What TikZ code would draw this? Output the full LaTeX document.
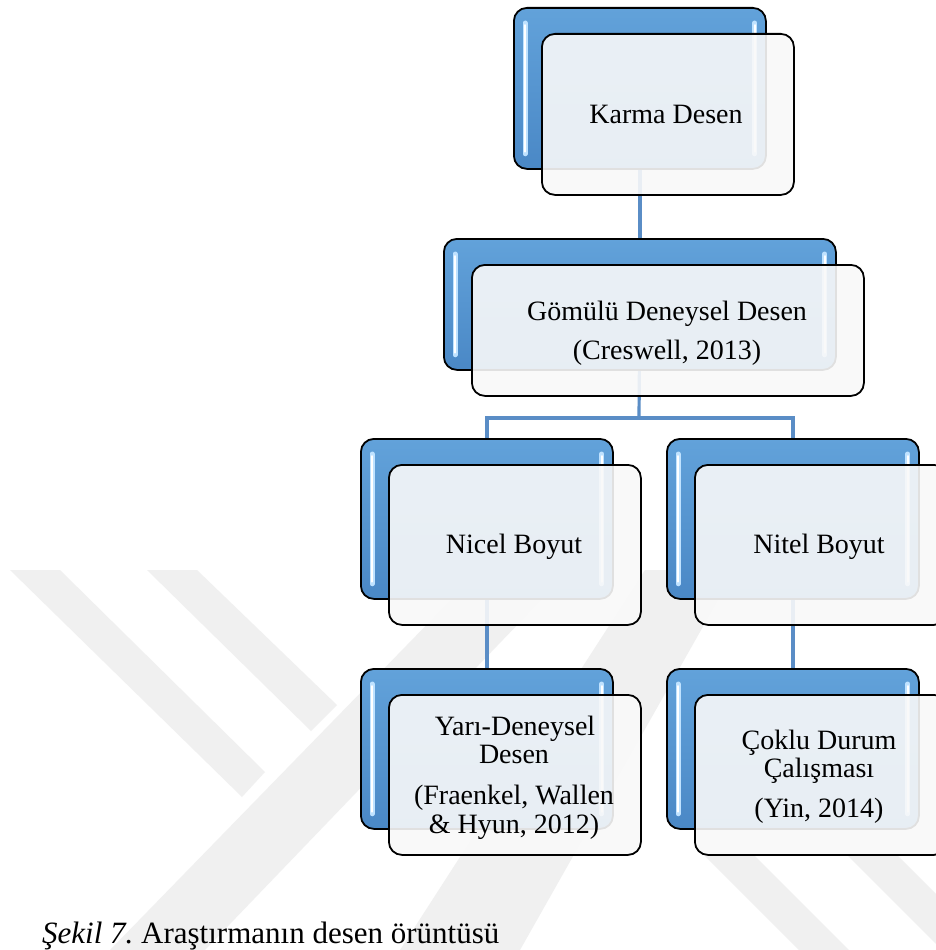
\documentclass[tikz,border=0pt]{standalone}
\usepackage{fontspec}
\setmainfont{Liberation Serif}
\usetikzlibrary{backgrounds}

\pgfdeclarelayer{watermark}
\pgfdeclarelayer{wires}
\pgfsetlayers{watermark,wires,main}

\definecolor{backtop}{HTML}{62A2DA}
\definecolor{backbottom}{HTML}{4A88C6}
\definecolor{glintblue}{HTML}{BFE2FF}
\definecolor{frontfill}{HTML}{F9F9F9}
\definecolor{wireblue}{HTML}{5A8DC6}
\definecolor{wmgray}{HTML}{F0F0F0}

% back box with its two glints, then the translucent front card on top
\newcommand\pairbox[5]{%
  \node[backbox, minimum width=#4pt, minimum height=#5pt] (b#1) at (#2,#3) {};
  \draw[glint] ([xshift=12pt,yshift=-16pt]b#1.north west) -- ([xshift=12pt,yshift=16pt]b#1.south west);
  \draw[glintcore] ([xshift=12pt,yshift=-18pt]b#1.north west) -- ([xshift=12pt,yshift=18pt]b#1.south west);
  \draw[glint] ([xshift=-12pt,yshift=-16pt]b#1.north east) -- ([xshift=-12pt,yshift=16pt]b#1.south east);
  \draw[glintcore] ([xshift=-12pt,yshift=-18pt]b#1.north east) -- ([xshift=-12pt,yshift=18pt]b#1.south east);
  \path (#2,#3) ++(28,26) node[frontbox, minimum width=#4pt, minimum height=#5pt] (f#1) {};
}

\begin{document}
\begin{tikzpicture}[x=1pt,y=-1pt,
  backbox/.style={draw=black, line width=1.8pt, rounded corners=13pt,
    top color=backtop, bottom color=backbottom, inner sep=0pt, anchor=north west},
  frontbox/.style={draw=black, line width=1.8pt, rounded corners=13pt,
    fill=frontfill, fill opacity=0.9, inner sep=0pt, anchor=north west},
  glint/.style={draw=glintblue, line width=5pt, line cap=round},
  glintcore/.style={draw=white, line width=1.6pt, line cap=round},
  txt/.style={font=\fontsize{28}{29}\selectfont, anchor=base, inner sep=0pt},
  wire/.style={draw=wireblue, line width=3.2pt},
  wm/.style={fill=wmgray}]

\useasboundingbox (0,0) rectangle (936,950);

% faint background watermark
\begin{pgfonlayer}{watermark}
  \fill[white] (0,0) rectangle (936,950);
  \fill[wm] (10,570) -- (60,570) -- (265,772) -- (242,797) -- cycle;
  \fill[wm] (147,570) -- (197,570) -- (337,705) -- (311,731) -- cycle;
  \fill[wm] (480,570) -- (570,570) -- (205,950) -- (110,950) -- cycle;
  \fill[wm] (645,570) -- (735,570) -- (520,950) -- (400,950) -- cycle;
  \fill[wm] (704,855) -- (754,855) -- (849,950) -- (799,950) -- cycle;
  \fill[wm] (847,855) -- (897,855) -- (992,950) -- (942,950) -- cycle;
\end{pgfonlayer}

% boxes
\pairbox{1}{513}{7}{252}{161}
\pairbox{2}{443}{238}{392}{131}
\pairbox{3}{360}{438}{252}{160}
\pairbox{4}{666}{438}{252}{160}
\pairbox{5}{360}{668}{252}{160}
\pairbox{6}{666}{668}{252}{160}

% connectors behind the boxes
\begin{pgfonlayer}{wires}
  \coordinate (bus) at (639,418);
  \draw[wire] (b1.center) -- (b2.center);
  \draw[wire] (b2.center) -- (bus);
  \draw[wire] (b3.center) |- (bus) -| (b4.center);
  \draw[wire] (b3.center) -- (b5.center);
  \draw[wire] (b4.center) -- (b6.center);
\end{pgfonlayer}

% texts
\node[txt] (t1) at (666,123) {Karma Desen};
\node[txt] (t2a) at (667,320) {Gömülü Deneysel Desen};
\node[txt] (t2b) at (667,359) {(Creswell, 2013)};
\node[txt] (t3) at (514,553) {Nicel Boyut};
\node[txt] (t4) at (819,553) {Nitel Boyut};
\node[txt] (t5a) at (515,735) {Yarı-Deneysel};
\node[txt] (t5b) at (514,763) {Desen};
\node[txt] (t5c) at (514,804) {(Fraenkel, Wallen};
\node[txt] (t5d) at (514,833) {\& Hyun, 2012)};
\node[txt] (t6a) at (819,749) {Çoklu Durum};
\node[txt] (t6b) at (819,777) {Çalışması};
\node[txt] (t6c) at (819,817) {(Yin, 2014)};

% caption
\node[anchor=base west, inner sep=0pt, font=\fontsize{31}{33}\selectfont] (cap) at (42,943)
  {\textit{Şekil 7.}\ Araştırmanın desen örüntüsü};
\end{tikzpicture}
\end{document}
